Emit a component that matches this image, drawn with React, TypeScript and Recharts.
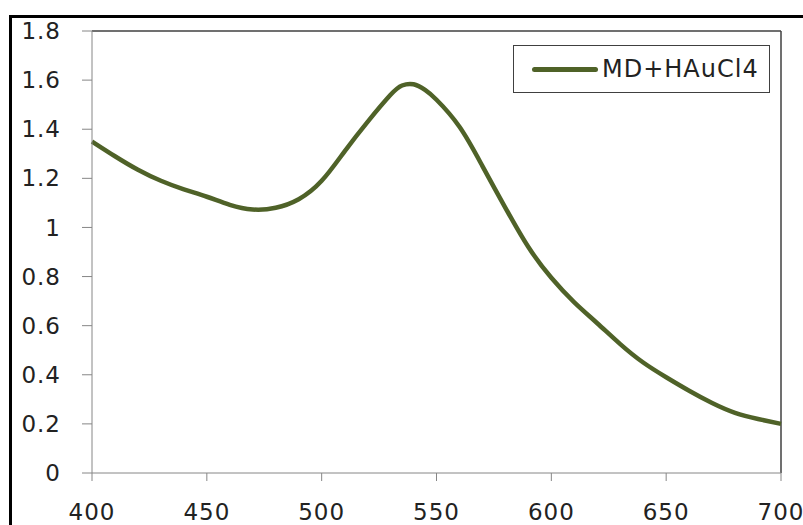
import React from "react";
import { LineChart, Line, XAxis, YAxis, ReferenceLine } from "recharts";

// wavelength (nm) and absorbance
const wavelengths = [400, 410, 420, 430, 440, 450, 460, 470, 480, 490, 500, 510, 520, 530, 535, 540, 545, 550, 560, 570, 580, 590, 600, 610, 620, 630, 640, 650, 660, 670, 680, 690, 700];
const absorbance = [1.35, 1.29, 1.235, 1.19, 1.155, 1.125, 1.092, 1.073, 1.08, 1.115, 1.19, 1.31, 1.43, 1.54, 1.578, 1.583, 1.56, 1.52, 1.41, 1.25, 1.08, 0.92, 0.795, 0.695, 0.61, 0.525, 0.45, 0.39, 0.335, 0.285, 0.245, 0.22, 0.2];
const xTicks = [400, 450, 500, 550, 600, 650, 700];
const yTicks = [0, 0.2, 0.4, 0.6, 0.8, 1, 1.2, 1.4, 1.6, 1.8];
const seriesName = "MD+HAuCl4";

const chartData = wavelengths.map((w, i) => ({ w, v: absorbance[i] }));

const FONT = "'DejaVu Sans', Verdana, sans-serif";
const LINE = "#4f6228";
const tickStyle = { fill: "#222", fontSize: 23, fontFamily: FONT, letterSpacing: 1 };

// legend drawn as an overlay so it doesn't eat plot space
const LegendBox = () => (
  <div
    style={{
      position: "absolute",
      left: 513,
      top: 45,
      width: 255,
      height: 46,
      border: "1.5px solid #404040",
      background: "#fff",
      display: "flex",
      alignItems: "center",
      fontFamily: FONT,
      fontSize: 24,
      letterSpacing: 1,
      color: "#222",
    }}
  >
    <div style={{ width: 66, height: 5, background: LINE, borderRadius: 3, marginLeft: 18, marginRight: 4 }} />
    <span>{seriesName}</span>
  </div>
);

export default function App() {
  return (
    <div style={{ position: "absolute", left: 0, top: 0, width: 803, height: 525, overflow: "hidden", background: "#fff" }}>
      <div style={{ position: "absolute", left: 9, top: 15, width: 820, height: 540, border: "3px solid #000", boxSizing: "border-box" }} />
      <div style={{ position: "absolute", left: 0, top: 0 }}>
        <LineChart width={803} height={525} data={chartData} margin={{ top: 31, right: 22, bottom: 0, left: 10 }}>
          <XAxis
            dataKey="w"
            type="number"
            domain={[400, 700]}
            ticks={xTicks}
            stroke="#868686"
            tickSize={8}
            tickMargin={23}
            height={52}
            tick={tickStyle}
          />
          <YAxis
            type="number"
            domain={[0, 1.8]}
            ticks={yTicks}
            stroke="#868686"
            tickSize={10}
            tickMargin={21}
            width={82}
            tick={tickStyle}
          />
          <ReferenceLine y={1.8} stroke="#404040" strokeWidth={1.5} />
          <ReferenceLine x={700} stroke="#404040" strokeWidth={1.5} />
          <Line
            type="natural"
            dataKey="v"
            name={seriesName}
            stroke={LINE}
            strokeWidth={4.5}
            dot={false}
            isAnimationActive={false}
          />
        </LineChart>
      </div>
      <LegendBox />
    </div>
  );
}
